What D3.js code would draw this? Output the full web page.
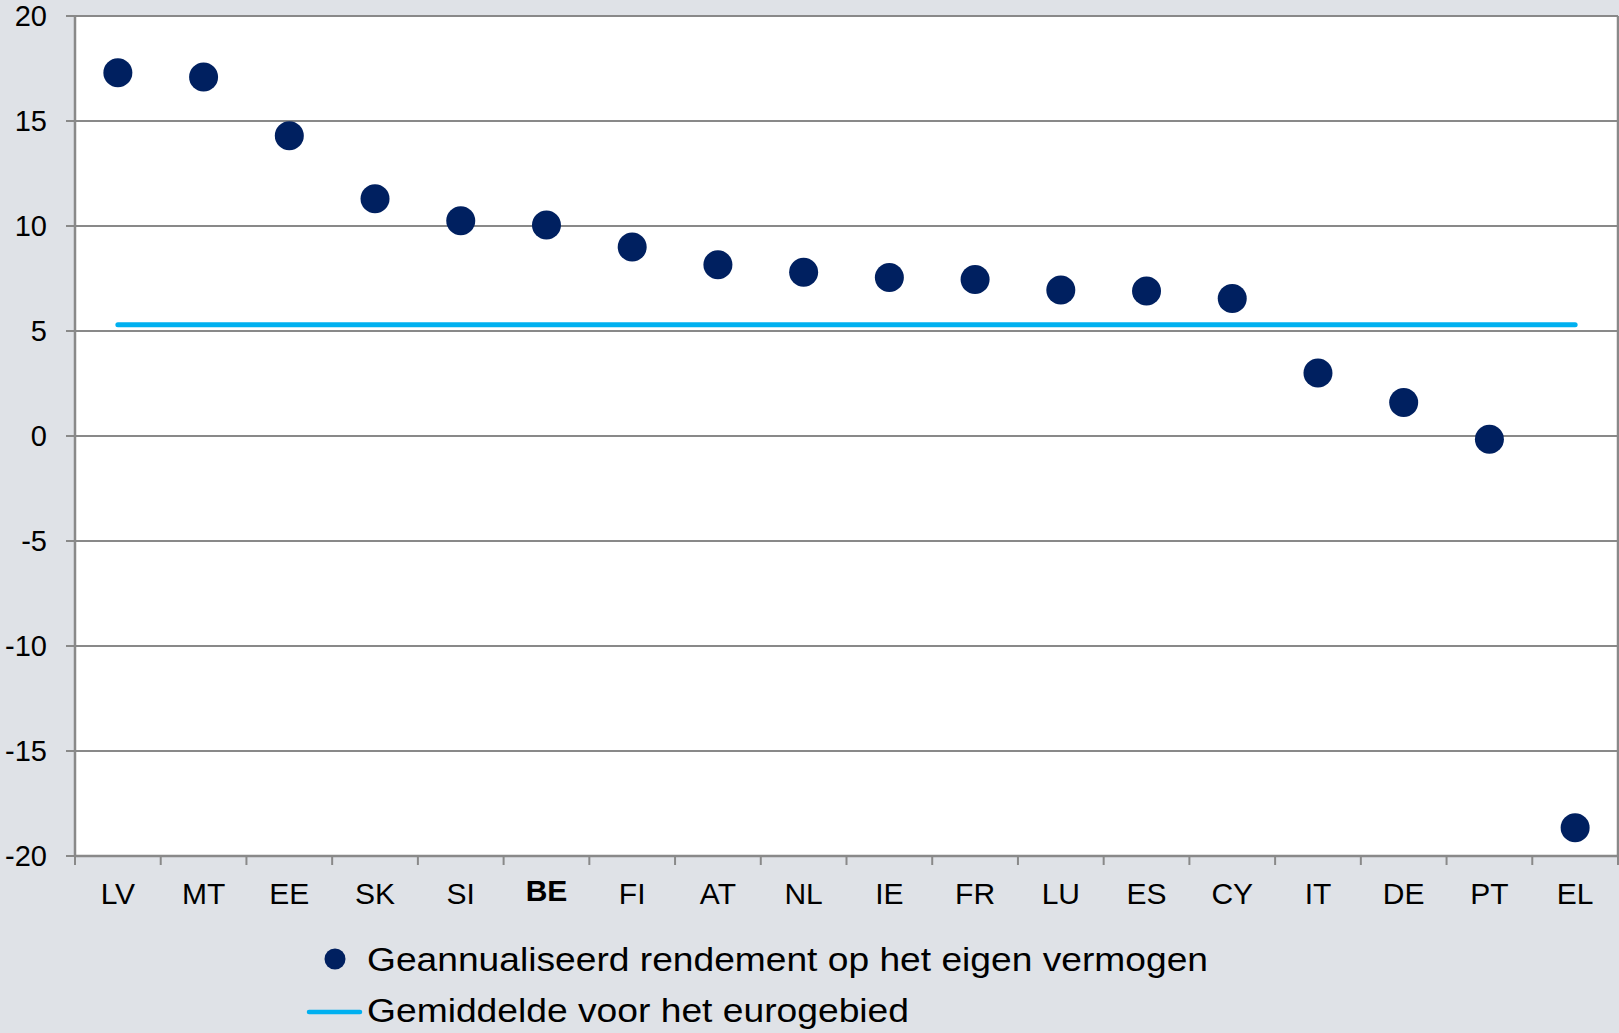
<!DOCTYPE html>
<html>
<head>
<meta charset="utf-8">
<script src="https://cdn.jsdelivr.net/npm/d3@7"></script>
<style>
  html, body { margin: 0; padding: 0; background: #dfe2e7; }
  svg { display: block; font-family: "Liberation Sans", Arial, sans-serif; }
</style>
</head>
<body>
<svg id="chart" width="1619" height="1033"></svg>
<script>
  'use strict';
  // country codes, sorted as in the original chart
  var countries = ['LV', 'MT', 'EE', 'SK', 'SI', 'BE', 'FI', 'AT', 'NL', 'IE', 'FR', 'LU', 'ES', 'CY', 'IT', 'DE', 'PT', 'EL'];
  // annualised return on equity (%)
  var roeValues = [17.3, 17.1, 14.3, 11.3, 10.25, 10.05, 9.0, 8.15, 7.8, 7.55, 7.45, 6.95, 6.9, 6.55, 3.0, 1.6, -0.15, -18.65];
  // euro area average (%)
  var euroAverage = 5.3;
  var yTicks = [20, 15, 10, 5, 0, -5, -10, -15, -20];
  var legendLabels = ['Geannualiseerd rendement op het eigen vermogen', 'Gemiddelde voor het eurogebied'];

  var plotLeft = 75, plotRight = 1618, plotTop = 16, plotBottom = 856;
  var gridColor = '#898989';
  var dotColor = '#002060';
  var lineColor = '#00b0f0';

  var svg = d3.select('#chart');

  var x = d3.scaleBand().domain(countries).range([plotLeft, plotRight]);
  var y = d3.scaleLinear().domain([-20, 20]).range([plotBottom, plotTop]);

  // plot area
  svg.append('rect')
    .attr('x', plotLeft).attr('y', plotTop)
    .attr('width', plotRight - plotLeft).attr('height', plotBottom - plotTop)
    .attr('fill', '#ffffff');

  // horizontal gridlines + left tick stubs
  svg.append('g').selectAll('line')
    .data(yTicks)
    .enter().append('line')
    .attr('x1', plotLeft - 9).attr('x2', plotRight)
    .attr('y1', function (d) { return y(d); })
    .attr('y2', function (d) { return y(d); })
    .attr('stroke', gridColor)
    .attr('stroke-width', 2);

  // y tick labels
  svg.append('g').selectAll('text')
    .data(yTicks)
    .enter().append('text')
    .attr('x', 47)
    .attr('y', function (d) { return y(d); })
    .attr('dy', '0.36em')
    .attr('text-anchor', 'end')
    .style('font-size', '29px')
    .style('fill', '#000')
    .text(function (d) { return d; });

  // left and right borders
  svg.append('line')
    .attr('x1', plotLeft).attr('x2', plotLeft).attr('y1', plotTop).attr('y2', plotBottom)
    .attr('stroke', gridColor).attr('stroke-width', 2.5);
  svg.append('line')
    .attr('x1', plotRight).attr('x2', plotRight).attr('y1', plotTop).attr('y2', plotBottom)
    .attr('stroke', gridColor).attr('stroke-width', 2.5);

  // x axis with ticks on band boundaries
  var bounds = countries.map(function (c) { return x(c); }).concat([plotRight]);
  svg.append('g').selectAll('line')
    .data(bounds)
    .enter().append('line')
    .attr('x1', function (d) { return d; })
    .attr('x2', function (d) { return d; })
    .attr('y1', plotBottom).attr('y2', plotBottom + 9)
    .attr('stroke', gridColor).attr('stroke-width', 2);
  svg.append('line')
    .attr('x1', plotLeft).attr('x2', plotRight).attr('y1', plotBottom).attr('y2', plotBottom)
    .attr('stroke', gridColor).attr('stroke-width', 2.5);

  // category labels (BE in bold sits a little higher)
  svg.append('g').selectAll('text')
    .data(countries)
    .enter().append('text')
    .attr('x', function (d) { return x(d) + x.bandwidth() / 2; })
    .attr('y', function (d) { return d === 'BE' ? 901 : 903.5; })
    .attr('text-anchor', 'middle')
    .style('font-size', '30px')
    .style('font-weight', function (d) { return d === 'BE' ? 'bold' : 'normal'; })
    .style('fill', '#000')
    .text(function (d) { return d; });

  // euro area average line
  svg.append('line')
    .attr('x1', x(countries[0]) + x.bandwidth() / 2)
    .attr('x2', x(countries[countries.length - 1]) + x.bandwidth() / 2)
    .attr('y1', y(euroAverage)).attr('y2', y(euroAverage))
    .attr('stroke', lineColor).attr('stroke-width', 5)
    .attr('stroke-linecap', 'round');

  // dots
  svg.append('g').selectAll('circle')
    .data(countries)
    .enter().append('circle')
    .attr('cx', function (d) { return x(d) + x.bandwidth() / 2; })
    .attr('cy', function (d, i) { return y(roeValues[i]); })
    .attr('r', 14.5)
    .attr('fill', dotColor);

  // legend
  var legend = svg.append('g');
  legend.append('circle')
    .attr('cx', 335).attr('cy', 959).attr('r', 10.5)
    .attr('fill', dotColor);
  legend.append('text')
    .attr('x', 367).attr('y', 971)
    .attr('textLength', 841)
    .attr('lengthAdjust', 'spacingAndGlyphs')
    .style('font-size', '34px')
    .text(legendLabels[0]);
  legend.append('line')
    .attr('x1', 309).attr('x2', 360).attr('y1', 1012).attr('y2', 1012)
    .attr('stroke', lineColor).attr('stroke-width', 4.5).attr('stroke-linecap', 'round');
  legend.append('text')
    .attr('x', 367).attr('y', 1022)
    .attr('textLength', 542)
    .attr('lengthAdjust', 'spacingAndGlyphs')
    .style('font-size', '34px')
    .text(legendLabels[1]);
</script>
</body>
</html>
